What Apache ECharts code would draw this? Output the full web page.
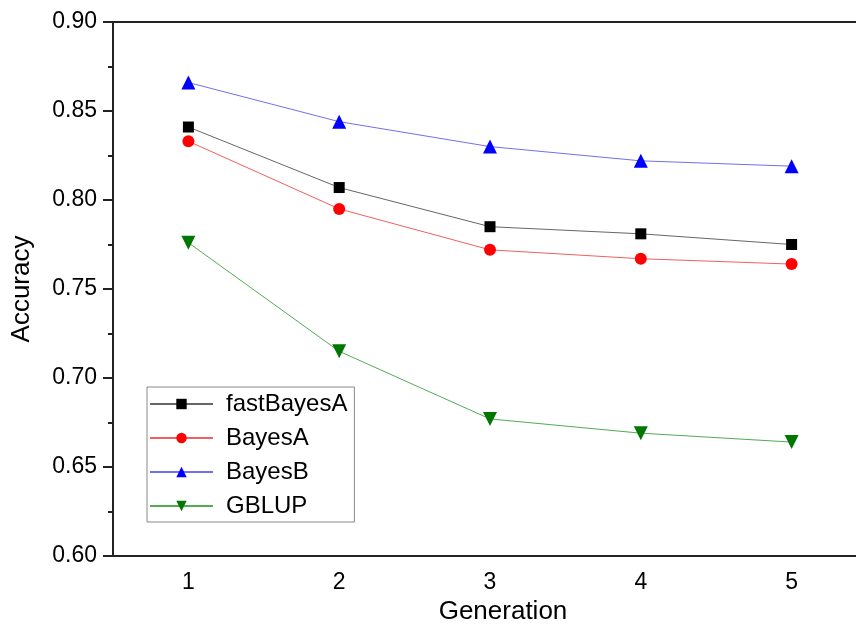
<!DOCTYPE html>
<html>
<head>
<meta charset="utf-8">
<script src="https://cdn.jsdelivr.net/npm/echarts@6/dist/echarts.min.js"></script>
<style>
  html, body { margin: 0; padding: 0; background: #fff; }
  #chart { width: 856px; height: 627px; }
</style>
</head>
<body>
<div id="chart"></div>
<script>
const generations = ['1', '2', '3', '4', '5']
const fastBayesA = [0.841, 0.807, 0.785, 0.781, 0.775]
const bayesA = [0.833, 0.795, 0.772, 0.767, 0.764]
const bayesB = [0.866, 0.844, 0.830, 0.822, 0.819]
const gblup = [0.776, 0.715, 0.677, 0.669, 0.664]

const font = 'Liberation Sans, Arial, sans-serif'

const chart = echarts.init(document.getElementById('chart'))

function line(name, data, lineColor, markColor, symbol, size, rotate) {
  return {
    name: name,
    type: 'line',
    data: data,
    symbol: symbol,
    symbolSize: size,
    symbolRotate: rotate || 0,
    showAllSymbol: true,
    animation: false,
    lineStyle: { color: lineColor, width: 1 },
    itemStyle: { color: markColor, borderWidth: 0 }
  }
}

chart.setOption({
  backgroundColor: '#fff',
  textStyle: { fontFamily: font },
  // the original frame runs past the right edge of the picture
  grid: { left: 113, top: 22, right: -11, bottom: 71, containLabel: false, outerBoundsMode: 'none' },
  legend: {
    orient: 'vertical',
    left: 147,
    top: 387,
    itemWidth: 63,
    itemHeight: 13,
    itemGap: 10,
    padding: [5, 7, 4, 2],
    borderColor: '#888',
    borderWidth: 1,
    textStyle: { fontSize: 24, lineHeight: 24, color: '#000', fontFamily: font, padding: [0, 0, 0, 8] },
    data: ['fastBayesA', 'BayesA', 'BayesB', 'GBLUP']
  },
  xAxis: [{
    type: 'category',
    data: generations,
    boundaryGap: true,
    name: 'Generation',
    nameLocation: 'middle',
    nameGap: 43,
    nameTextStyle: { fontSize: 26, color: '#000', fontFamily: font, padding: [0, 0, 0, 26] },
    axisLine: { lineStyle: { color: '#222', width: 2 } },
    axisTick: { alignWithLabel: true, length: 8, lineStyle: { color: '#222', width: 2 } },
    axisLabel: { fontSize: 23, color: '#000', margin: 15, fontFamily: font },
    splitLine: { show: false }
  }, {
    type: 'category',
    data: generations,
    position: 'top',
    axisLine: { lineStyle: { color: '#222', width: 2 } },
    axisTick: { show: false },
    axisLabel: { show: false },
    splitLine: { show: false }
  }],
  yAxis: {
    type: 'value',
    min: 0.6,
    max: 0.9,
    interval: 0.05,
    name: 'Accuracy',
    nameLocation: 'middle',
    nameGap: 78,
    nameTextStyle: { fontSize: 26, color: '#000', fontFamily: font },
    axisLine: { show: true, lineStyle: { color: '#222', width: 2 } },
    axisTick: { show: true, length: 10, lineStyle: { color: '#222', width: 2 } },
    minorTick: { show: true, splitNumber: 2, length: 5, lineStyle: { color: '#222', width: 2 } },
    axisLabel: {
      fontSize: 23, color: '#000', margin: 16, fontFamily: font,
      formatter: v => v.toFixed(2)
    },
    splitLine: { show: false }
  },
  series: [
    line('fastBayesA', fastBayesA, '#666', '#000', 'rect', 11),
    line('BayesA', bayesA, '#f06060', '#ff0000', 'circle', 12),
    line('BayesB', bayesB, '#7070ee', '#0000ff', 'triangle', 14),
    line('GBLUP', gblup, '#55aa55', '#007700', 'triangle', 14, 180)
  ]
})
</script>
</body>
</html>
